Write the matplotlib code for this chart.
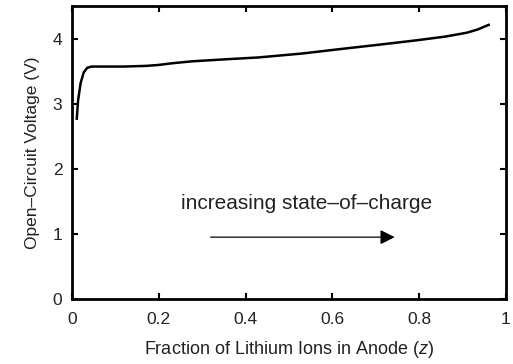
import numpy as np
import matplotlib
matplotlib.use('Agg')
import matplotlib.pyplot as plt

plt.rcParams['font.family'] = ['Liberation Sans', 'DejaVu Sans']
plt.rcParams['mathtext.fontset'] = 'custom'
plt.rcParams['mathtext.it'] = 'Liberation Sans:italic'
plt.rcParams['mathtext.rm'] = 'Liberation Sans'

# open-circuit voltage vs anode lithium fraction
z = [0.011, 0.014, 0.02, 0.027, 0.035, 0.045, 0.07, 0.12, 0.17, 0.20, 0.23,
     0.276, 0.35, 0.43, 0.53, 0.62, 0.70, 0.79, 0.86, 0.91, 0.935, 0.96]
ocv = [2.77, 3.05, 3.32, 3.48, 3.55, 3.57, 3.57, 3.57, 3.58, 3.595, 3.62,
       3.65, 3.68, 3.71, 3.77, 3.84, 3.90, 3.97, 4.03, 4.09, 4.14, 4.21]

xticks = [0, 0.2, 0.4, 0.6, 0.8, 1]
xticklabels = ['0', '0.2', '0.4', '0.6', '0.8', '1']
yticks = [0, 1, 2, 3, 4]

fig = plt.figure(figsize=(5.13, 3.64), dpi=100)
ax = fig.add_axes([72 / 513, 65 / 364, 434 / 513, 293 / 364])

ax.plot(z, ocv, color='black', lw=1.8)

ax.set_xlim(0, 1)
ax.set_ylim(0, 4.5)
ax.set_xticks(xticks)
ax.set_xticklabels(xticklabels)
ax.set_yticks(yticks)
ax.tick_params(direction='in', top=True, right=True, length=4, width=1.5,
               labelsize=12.5, labelcolor='#222222')
ax.tick_params(axis='x', pad=9)
ax.tick_params(axis='y', pad=7)
for s in ax.spines.values():
    s.set_linewidth(2)

ax.set_xlabel('Fraction of Lithium Ions in Anode ($z$)', fontsize=13,
              color='#222222', labelpad=9)
ax.set_ylabel('Open\u2013Circuit Voltage (V)', fontsize=12.5,
              color='#222222', labelpad=9)

ax.text(0.54, 1.47, 'increasing state\u2013of\u2013charge', ha='center',
        va='center', fontsize=15, color='#222222')
ax.annotate('', xy=(0.75, 0.95), xytext=(0.313, 0.95),
            arrowprops=dict(arrowstyle='-|>', color='black', lw=0.9,
                            mutation_scale=22))

fig.savefig('out.png', dpi=100)
